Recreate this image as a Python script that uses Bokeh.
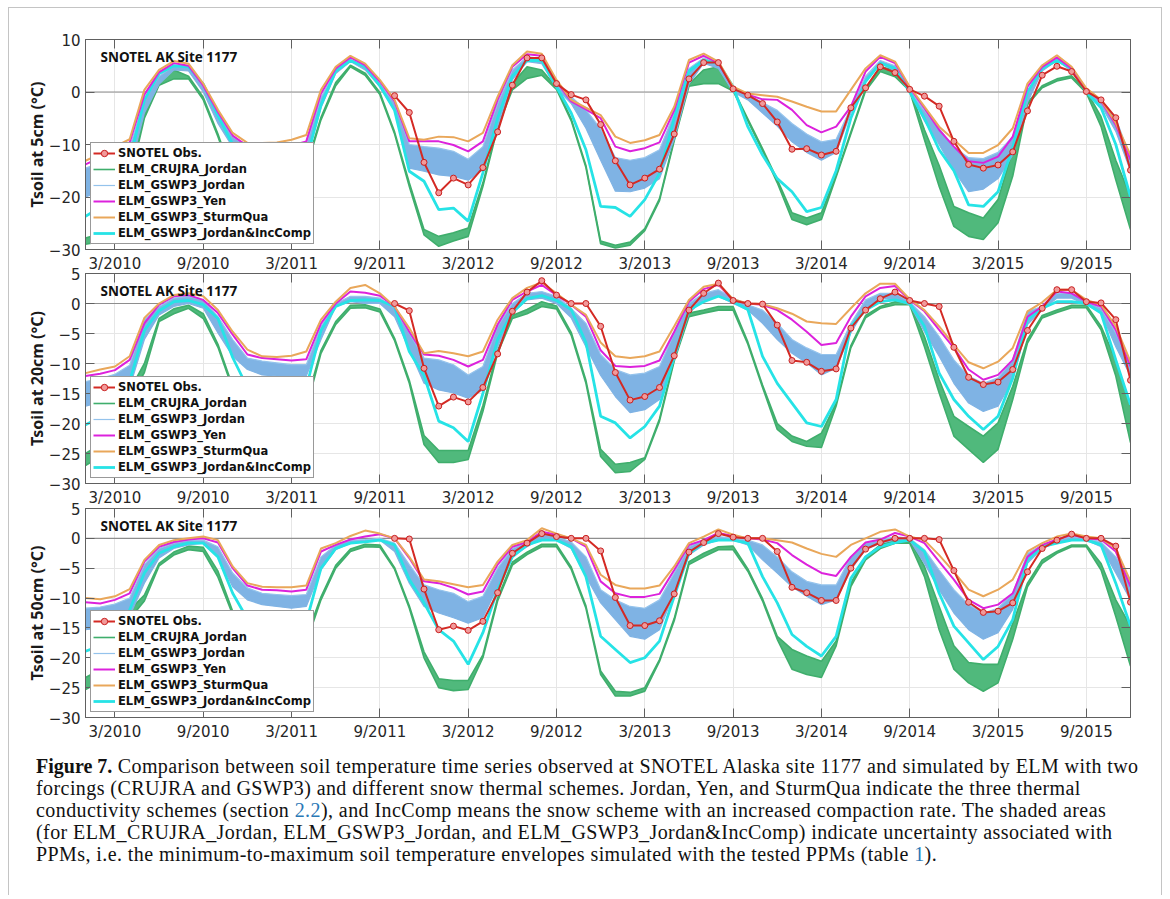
import math
from bokeh.plotting import figure
from bokeh.models import (ColumnDataSource, Legend, LegendItem, Range1d, FixedTicker,
                          LinearAxis, Label, Span, Div)
from bokeh.layouts import column
from bokeh.embed import file_html
from bokeh.resources import INLINE

nan = float("nan")

# ---------------- data ----------------
months = list(range(72))  # 0 = Jan 2010 ... 71 = Dec 2015
tick_months = [2, 8, 14, 20, 26, 32, 38, 44, 50, 56, 62, 68]
tick_labels = ["3/2010", "9/2010", "3/2011", "9/2011", "3/2012", "9/2012",
               "3/2013", "9/2013", "3/2014", "9/2014", "3/2015", "9/2015"]

depth_labels = ["Tsoil at 5cm (°C)", "Tsoil at 20cm (°C)", "Tsoil at 50cm (°C)"]
site_label = "SNOTEL AK Site 1177"
series_names = ["SNOTEL Obs.", "ELM_CRUJRA_Jordan", "ELM_GSWP3_Jordan", "ELM_GSWP3_Yen",
                "ELM_GSWP3_SturmQua", "ELM_GSWP3_Jordan&IncComp"]

# ---- 5 cm ----
obs_5 = [nan] * 21 + [
    -0.7, -3.9, -13.4, -19.2, -16.4, -17.7, -14.4, -7.6, 1.3, 6.5, 6.5, 1.6, -0.5, -1.5,
    -6.2, -13.1, -17.7, -16.4, -14.7, -8.0, 2.5, 5.6, 5.6, 0.6, -0.6, -2.2, -5.7, -10.9,
    -10.8, -12.0, -11.3, -3.0, 0.8, 4.8, 3.7, 0.5, -0.8, -2.7, -9.4, -13.8, -14.5, -13.9,
    -11.4, -3.6, 3.2, 4.9, 3.9, 0.1, -1.5, -4.9, -14.9]
sturm_5 = [-13.1, -11.8, -10.4, -9.0, 0.4, 4.2, 5.9, 5.4, 1.6, -3.4, -7.8, -9.7, -9.7, -9.6,
           -9.1, -8.2, 0.4, 4.8, 6.9, 5.4, 2.3, -1.5, -8.8, -9.1, -8.5, -8.6, -9.4, -7.8,
           -0.9, 5.1, 7.7, 7.3, 2.3, -1.5, -3.0, -4.4, -8.5, -9.7, -9.2, -8.2, -2.8, 6.1,
           7.3, 5.8, 1.0, -0.3, -0.6, -0.9, -1.8, -2.8, -3.7, -3.7, 0.4, 4.5, 7.0, 5.8,
           1.0, -2.8, -6.6, -9.1, -11.6, -11.6, -10.1, -6.9, 1.6, 5.1, 7.0, 4.8, 0.7, -1.5,
           -5.9, -12.0]
yen_5 = [-13.8, -12.5, -11.0, -9.6, -0.5, 3.8, 5.5, 5.0, 1.2, -3.8, -8.3, -10.3, -10.3, -10.0,
         -10.2, -9.4, -0.3, 4.5, 6.6, 5.1, 2.0, -1.8, -9.4, -9.4, -9.4, -10.1, -11.3, -9.4,
         -1.5, 4.8, 7.2, 6.9, 2.0, -1.8, -3.3, -5.0, -10.4, -11.3, -10.7, -9.6, -3.5, 5.6,
         6.9, 5.5, 0.8, -0.5, -1.4, -1.5, -3.4, -6.3, -7.7, -6.6, -2.8, 3.9, 6.7, 5.5, 0.8,
         -3.1, -7.2, -10.4, -13.2, -13.5, -12.3, -8.5, 1.0, 4.8, 6.6, 4.5, 0.5, -1.7, -6.3,
         -12.9]
gswp_hi_5 = [-14.5, -13.5, -12.0, -10.5, -1.5, 3.0, 5.0, 4.8, 1.0, -4.0, -8.5, -10.5, -11.0,
             -11.0, -11.0, -10.0, -1.0, 4.2, 6.3, 4.8, 1.5, -2.0, -10.0, -10.4, -10.7, -11.3,
             -12.8, -10.4, -2.2, 4.2, 6.7, 6.4, 1.3, -0.9, -3.4, -7.0, -12.5, -13.0, -12.5,
             -11.0, -4.0, 4.5, 6.5, 5.2, 0.5, -0.5, -2.0, -3.5, -6.0, -8.0, -9.5, -9.0, -3.0,
             3.0, 6.0, 5.0, 0.3, -3.5, -7.0, -10.5, -12.5, -12.7, -11.5, -8.5, 0.0, 5.0, 6.5,
             4.5, 0.5, -1.5, -5.0, -12.5]
gswp_lo_5 = [-20.0, -19.0, -17.5, -15.0, -4.0, 1.5, 4.2, 4.0, 0.0, -6.0, -10.5, -13.0, -14.0,
             -14.5, -14.5, -13.0, -3.0, 3.5, 5.8, 4.2, 1.0, -3.5, -14.5, -15.1, -15.8, -16.1,
             -16.8, -14.8, -6.6, 2.3, 5.8, 5.4, 0.7, -2.2, -6.9, -13.0, -18.9, -19.0, -18.3,
             -16.5, -9.0, 1.5, 5.5, 4.5, 0.0, -1.5, -4.0, -6.5, -9.5, -11.5, -13.0, -11.5,
             -4.0, 2.0, 5.5, 4.0, 0.0, -5.5, -10.0, -15.0, -19.0, -18.5, -16.5, -12.0, -2.0,
             4.0, 6.0, 4.0, 0.0, -2.5, -7.5, -15.0]
inccomp_5 = [-23.7, -22.0, -19.0, -13.0, -1.5, 3.5, 5.0, 4.8, 1.5, -4.5, -10.0, -14.0, -16.0,
             -17.0, -17.0, -13.0, -2.5, 4.0, 6.0, 4.8, 1.2, -3.5, -15.1, -17.0, -22.4, -22.1,
             -24.6, -15.4, -5.0, 3.0, 6.0, 6.0, 1.0, -4.0, -11.0, -21.8, -22.0, -23.7, -20.5,
             -15.5, -5.0, 4.0, 6.0, 5.5, 1.0, -6.6, -12.0, -16.5, -19.0, -22.8, -22.0, -15.0,
             -5.0, 2.0, 5.5, 4.5, 0.0, -5.0, -11.0, -15.0, -21.5, -21.8, -19.0, -10.5, 0.0,
             4.5, 6.0, 4.5, 0.0, -3.0, -10.0, -20.0]
cru_lo_5 = [-29.0, -28.5, -25.0, -17.0, -5.0, 1.3, 2.5, 2.5, -1.5, -8.5, -16.5, -23.0, -27.0,
            -28.0, -27.0, -14.5, -5.3, 1.2, 4.8, 3.2, -0.5, -8.0, -18.0, -27.2, -29.4, -28.4,
            -27.5, -18.0, -6.8, 0.4, 2.6, 3.2, 0.5, -5.5, -14.4, -28.9, -29.7, -29.2, -26.4,
            -20.7, -9.3, 1.1, 1.6, 1.6, 0.2, -5.5, -11.2, -17.3, -24.3, -25.3, -24.3, -16.2,
            -8.0, 0.2, 3.9, 2.9, 0.2, -9.1, -18.0, -25.6, -27.5, -28.1, -24.9, -16.0, -2.4,
            0.8, 2.1, 2.7, -0.2, -6.6, -16.7, -26.2]
cru_hi_5 = [-27.8, -27.0, -23.0, -15.0, -4.0, 2.0, 4.2, 3.0, -1.0, -8.0, -16.0, -22.0, -25.5,
            -26.5, -25.5, -14.0, -4.8, 1.8, 5.1, 3.6, -0.1, -7.6, -17.3, -26.2, -27.5, -26.8,
            -25.9, -17.3, -6.4, 1.6, 4.8, 4.2, 0.9, -5.1, -14.0, -28.4, -29.2, -28.6, -26.0,
            -20.3, -8.9, 1.5, 4.2, 4.8, 0.6, -5.1, -10.8, -16.7, -23.0, -24.0, -23.0, -15.8,
            -7.6, 0.6, 4.8, 4.2, 0.6, -7.2, -14.0, -21.8, -23.0, -24.0, -20.5, -11.0, -2.0,
            1.2, 2.5, 3.1, 0.2, -4.7, -13.0, -19.9]

# ---- 20 cm ----
obs_20 = [nan] * 21 + [
    0.0, -1.2, -10.8, -17.1, -15.6, -16.4, -14.0, -8.4, -1.3, 1.9, 3.8, 1.4, 0.0, 0.0,
    -3.8, -11.5, -16.1, -15.5, -14.0, -8.7, -1.1, 1.7, 3.4, 0.5, 0.0, -0.1, -3.6, -9.5,
    -9.8, -11.3, -10.9, -4.1, -1.1, 0.8, 1.9, 0.5, 0.0, -0.5, -7.3, -12.3, -13.5, -13.1,
    -11.0, -4.5, -0.8, 2.3, 2.3, 0.3, 0.1, -2.7, -12.8]
sturm_20 = [-11.6, -11.0, -10.5, -8.8, -2.4, 0.0, 1.4, 1.7, 1.2, -1.1, -4.7, -7.7, -8.8, -8.9,
            -8.7, -8.0, -2.7, 0.3, 2.6, 3.1, 1.7, -0.5, -4.1, -8.3, -7.9, -8.3, -8.8, -8.0,
            -2.7, 0.9, 2.6, 3.5, 1.7, -0.2, -1.9, -6.5, -8.8, -9.1, -8.8, -8.0, -3.8, 0.6,
            2.8, 3.3, 0.7, 0.0, -0.1, -0.8, -1.7, -3.0, -3.3, -3.4, -0.8, 1.7, 3.3, 3.3, 0.7,
            -1.1, -3.8, -6.9, -9.8, -10.8, -9.7, -7.4, -1.3, 0.2, 2.3, 2.3, 0.6, -0.2, -3.8,
            -9.7]
yen_20 = [-12.1, -11.7, -11.1, -9.4, -3.3, -0.2, 1.2, 1.4, 0.6, -1.6, -5.2, -8.5, -9.1, -9.3,
          -9.5, -9.3, -3.3, 0.0, 2.0, 1.8, 1.3, -0.5, -4.7, -8.5, -8.7, -9.4, -10.5, -9.4,
          -3.5, 0.6, 2.0, 3.1, 1.4, -0.2, -2.2, -7.8, -10.4, -10.6, -10.4, -9.5, -4.7, 0.3,
          2.4, 3.1, 0.6, 0.0, -0.2, -1.1, -2.7, -4.7, -6.9, -6.6, -2.2, 1.2, 2.6, 2.9, 0.6,
          -1.3, -4.4, -7.4, -11.0, -12.7, -11.9, -9.4, -2.2, -0.5, 2.0, 1.7, 0.3, -0.5, -4.4,
          -10.5]
gswp_hi_20 = [-13.0, -12.5, -11.8, -10.3, -2.7, -0.5, 0.9, 1.2, 0.6, -2.2, -6.0, -9.1, -9.6,
              -9.9, -10.2, -10.2, -3.8, 0.0, 1.2, 1.2, 0.9, -0.8, -4.9, -9.1, -9.4, -10.2,
              -11.9, -10.5, -3.8, 0.0, 1.7, 2.0, 1.2, -0.8, -3.3, -8.5, -11.0, -11.9, -11.6,
              -10.5, -4.9, 0.0, 1.7, 2.3, 0.9, -0.2, -1.1, -3.3, -6.0, -7.4, -8.5, -8.5, -3.3,
              0.6, 1.7, 1.7, 0.3, -2.2, -5.5, -9.4, -12.1, -13.3, -12.4, -9.4, -1.3, -0.5, 1.7,
              1.7, 0.3, -0.8, -4.9, -9.9]
gswp_lo_20 = [-17.1, -16.5, -15.5, -14.0, -6.0, -1.9, -0.5, 0.0, -0.8, -4.9, -8.8, -11.0,
              -11.9, -12.1, -12.4, -12.1, -6.0, -0.5, 0.3, 0.0, 0.0, -2.2, -7.7, -13.3, -14.4,
              -14.9, -15.8, -14.4, -7.2, -1.6, 0.6, 0.9, 0.0, -2.4, -7.2, -12.0, -15.5, -18.2,
              -17.7, -16.0, -9.4, -1.6, 0.6, 1.2, 0.0, -1.1, -3.3, -6.0, -8.3, -9.9, -11.9,
              -10.8, -4.9, -0.8, 0.9, 0.6, -0.2, -4.7, -8.8, -13.3, -16.6, -18.0, -17.1, -12.7,
              -3.5, -1.1, 0.9, 0.9, -0.2, -1.6, -7.2, -12.1]
inccomp_20 = [-20.2, -19.0, -17.0, -13.0, -4.5, -1.2, 0.3, 0.5, -0.2, -2.5, -9.0, -14.0, -16.5,
              -17.0, -17.5, -14.0, -4.5, -0.5, 0.5, 0.6, 0.5, -0.5, -8.0, -12.0, -19.6, -20.7,
              -23.0, -15.0, -6.0, -1.5, 0.8, 1.3, 0.5, -1.0, -6.5, -18.8, -19.9, -22.4, -20.5,
              -17.1, -8.8, -1.1, 0.3, 1.2, 0.3, -1.0, -8.8, -13.3, -16.6, -19.9, -20.5, -16.0,
              -3.8, -1.1, 0.3, 0.6, 0.0, -3.8, -11.6, -16.0, -18.8, -21.0, -18.8, -12.4, -2.7,
              -0.8, 0.3, 0.3, 0.0, -1.6, -9.4, -16.9]
cru_lo_20 = [-27.0, -25.5, -22.0, -16.0, -11.5, -3.0, -1.7, -0.8, -2.5, -7.3, -14.3, -20.5,
             -23.5, -24.5, -24.5, -17.5, -8.3, -3.5, -0.8, -0.7, -1.4, -6.2, -13.3, -23.5,
             -26.5, -26.5, -26.0, -18.0, -8.3, -2.5, -1.7, -0.5, -0.9, -5.3, -13.3, -25.5,
             -28.2, -28.0, -26.0, -19.6, -9.6, -2.2, -1.6, -1.1, -1.1, -6.8, -14.0, -21.0,
             -23.0, -23.8, -24.0, -17.1, -7.4, -2.4, -0.8, -0.2, -0.2, -7.2, -14.9, -22.1,
             -24.3, -26.5, -24.3, -16.0, -6.6, -2.4, -1.5, -0.7, -0.7, -4.4, -12.1, -23.2]
cru_hi_20 = [-25.0, -23.5, -20.0, -14.5, -10.0, -2.5, -0.9, -0.3, -1.7, -6.8, -13.8, -19.5,
             -22.5, -23.5, -23.5, -16.5, -7.8, -3.0, -0.3, -0.2, -0.9, -5.8, -12.8, -22.0,
             -24.5, -24.5, -24.5, -17.0, -7.8, -2.0, -1.0, 0.3, -0.4, -4.8, -12.8, -24.3,
             -26.8, -26.5, -25.7, -19.2, -9.2, -1.6, -1.1, -0.5, -0.5, -6.4, -13.6, -20.0,
             -22.1, -23.0, -21.6, -16.6, -7.0, -2.0, -0.5, 0.3, 0.2, -5.5, -12.7, -18.8, -20.5,
             -22.1, -19.9, -13.8, -6.0, -2.0, -1.1, -0.3, -0.3, -3.8, -9.4, -17.1]

# ---- 50 cm ----
obs_50 = [nan] * 21 + [
    0.0, -0.1, -8.5, -15.3, -14.7, -15.4, -13.9, -9.1, -2.5, -0.8, 0.8, 0.3, 0.0, 0.0,
    -2.1, -9.9, -14.6, -14.6, -13.8, -9.3, -2.3, -0.7, 0.8, 0.2, 0.0, 0.0, -2.2, -8.2,
    -9.1, -10.4, -10.4, -5.0, -1.8, -0.7, 0.0, 0.0, 0.0, -0.2, -5.4, -10.7, -12.4, -12.2,
    -10.8, -5.6, -1.7, -0.3, 0.7, 0.0, 0.0, -1.3, -10.7]
sturm_50 = [-10.0, -10.2, -9.7, -8.5, -3.6, -1.1, -0.3, 0.0, 0.3, -0.3, -4.7, -7.5, -8.1, -8.2,
            -8.2, -7.9, -1.7, -0.8, 0.4, 1.3, 0.8, 0.0, -3.1, -6.9, -7.2, -7.7, -8.2, -7.8,
            -3.9, -1.1, -0.3, 1.7, 0.8, 0.0, -1.1, -6.1, -7.8, -8.4, -8.4, -7.9, -4.7, -0.8,
            0.3, 1.5, 0.6, 0.0, 0.0, -0.3, -0.7, -1.7, -2.6, -3.1, -1.1, 0.0, 1.1, 1.5, 0.3,
            -0.3, -2.8, -5.6, -8.6, -9.7, -8.6, -6.9, -2.2, -0.8, 0.3, 0.8, 0.3, 0.0, -1.7,
            -7.2]
yen_50 = [-10.7, -10.9, -10.3, -9.2, -3.9, -1.4, -0.6, -0.2, 0.0, -0.7, -5.0, -7.9, -8.6, -8.7,
          -8.9, -8.6, -2.2, -1.1, -0.2, 0.3, 0.7, 0.0, -3.3, -7.2, -7.5, -8.3, -9.4, -8.9,
          -4.4, -1.4, -0.6, 1.1, 0.6, 0.0, -1.4, -7.2, -9.2, -9.8, -9.8, -9.3, -5.3, -1.1,
          -0.3, 0.9, 0.4, 0.0, -0.2, -0.8, -2.8, -4.4, -5.8, -6.3, -3.1, -0.7, -0.2, 0.9, 0.3,
          -0.8, -3.9, -6.9, -10.3, -11.7, -11.1, -9.2, -3.1, -1.1, -0.2, 0.6, 0.0, -0.2, -2.2,
          -8.1]
gswp_hi_50 = [-11.7, -11.5, -11.0, -10.0, -4.4, -1.7, -0.8, -0.3, -0.3, -1.4, -5.8, -8.3,
              -9.2, -9.4, -9.6, -9.4, -3.1, -1.1, -0.3, -0.2, 0.0, -0.8, -4.4, -7.8, -8.6,
              -9.2, -10.6, -9.7, -5.0, -1.7, -0.7, 0.6, 0.3, -0.6, -3.1, -8.6, -10.3, -11.4,
              -11.7, -10.3, -5.8, -1.4, -0.3, 0.3, 0.0, -0.3, -1.1, -3.1, -5.6, -7.2, -7.8,
              -7.8, -3.1, -0.8, -0.3, 0.3, 0.0, -1.9, -5.3, -8.6, -11.1, -12.5, -11.7, -9.2,
              -2.5, -1.1, -0.3, 0.3, 0.0, -0.6, -3.1, -6.9]
gswp_lo_50 = [-15.3, -15.0, -14.5, -13.0, -7.5, -3.3, -1.7, -1.1, -0.8, -3.1, -8.1, -10.3,
              -11.1, -11.4, -11.7, -11.4, -5.3, -1.9, -0.8, -0.6, -0.3, -2.2, -7.5, -11.4,
              -12.5, -13.3, -14.2, -13.3, -8.1, -3.1, -1.4, 0.0, -0.3, -1.7, -6.4, -10.8,
              -13.6, -16.4, -16.9, -15.3, -9.2, -2.8, -1.1, -0.3, -0.3, -1.1, -3.6, -5.8,
              -8.1, -9.7, -11.1, -10.3, -5.3, -1.9, -0.8, -0.3, -0.3, -4.2, -8.6, -12.5,
              -15.3, -16.9, -15.8, -11.9, -4.2, -1.7, -0.7, -0.3, -0.3, -1.4, -5.8, -10.3]
inccomp_50 = [-18.9, -18.0, -16.0, -12.0, -5.8, -2.5, -1.4, -0.8, -0.8, -3.1, -9.2, -13.5,
              -15.5, -16.5, -17.0, -14.0, -5.0, -1.7, -0.8, -0.6, -0.3, -1.1, -6.9, -10.8,
              -15.3, -17.2, -21.1, -15.8, -8.6, -3.1, -1.1, -0.3, -0.3, -1.4, -6.4, -16.4,
              -18.6, -20.8, -20.0, -17.2, -9.7, -2.5, -0.8, -0.3, -0.3, -0.8, -6.4, -10.8,
              -16.1, -18.1, -19.7, -16.4, -6.7, -3.1, -1.4, -0.7, -0.3, -2.2, -9.2, -14.7,
              -17.5, -20.3, -18.1, -13.6, -3.6, -1.4, -0.8, -0.3, -0.3, -1.1, -7.5, -14.7]
cru_lo_50 = [-25.3, -24.0, -20.0, -13.5, -10.5, -4.6, -2.8, -1.9, -2.2, -6.5, -12.8, -18.0,
             -21.5, -22.5, -23.0, -17.5, -10.3, -5.0, -2.2, -1.4, -1.5, -5.2, -11.7, -20.0,
             -25.0, -25.5, -25.3, -20.0, -10.5, -4.5, -2.7, -1.4, -1.4, -5.2, -11.7, -22.8,
             -26.4, -26.4, -25.6, -20.6, -13.8, -4.4, -3.1, -1.9, -1.9, -5.5, -10.5, -16.9,
             -21.9, -22.8, -23.3, -18.0, -8.1, -3.6, -1.7, -0.8, -0.8, -6.4, -15.3, -21.9,
             -24.2, -25.6, -24.2, -16.9, -8.1, -4.2, -2.5, -1.4, -1.4, -5.3, -13.1, -21.4]
cru_hi_50 = [-23.3, -22.0, -18.0, -12.0, -9.5, -4.2, -2.3, -1.3, -1.5, -5.5, -12.2, -17.0,
             -20.5, -21.5, -22.0, -16.5, -9.8, -4.5, -1.8, -1.0, -1.1, -4.9, -11.3, -19.0,
             -23.5, -23.8, -23.8, -19.5, -10.0, -4.0, -2.3, -1.0, -1.0, -4.8, -11.3, -22.2,
             -25.6, -25.8, -25.0, -20.3, -13.4, -3.9, -2.5, -1.4, -1.3, -5.1, -10.1, -16.4,
             -18.6, -19.7, -20.6, -17.2, -7.5, -3.1, -1.1, -0.3, -0.3, -4.7, -11.4, -18.0,
             -20.8, -21.1, -21.1, -14.2, -7.5, -3.6, -2.2, -1.1, -1.1, -4.2, -10.3, -14.7]

# ---------------- style ----------------
C_RED = "#d42a24"
C_GREEN_FILL = "#50b97c"
C_GREEN_LINE = "#3fae6c"
C_BLUE_FILL = "#7fb3e4"
C_BLUE_LINE = "#94c3ec"
C_MAGENTA = "#dc22dc"
C_ORANGE = "#e9a75a"
C_CYAN = "#26e3e6"
FRAME = "#606060"
TICK_FONT = "DejaVu Sans"
BOLD_FONT = "Noto Sans"

X0, X1 = 0, 71


def style_mirror(ax):
    ax.axis_line_color = FRAME
    ax.major_tick_line_color = FRAME
    ax.major_tick_in = 9
    ax.major_tick_out = 0
    ax.minor_tick_line_color = None
    ax.major_label_text_color = None
    ax.major_label_text_font_size = "1px"
    ax.major_label_standoff = 0


def make_panel(ylabel, ystart, yend, ystep, obs, sturm, yen, g_hi, g_lo, inc, c_lo, c_hi,
               height, top, bottom, margin_top):
    p = figure(width=1152, height=height, x_range=Range1d(X0, X1),
               y_range=Range1d(ystart, yend), output_backend="svg",
               toolbar_location=None, min_border_left=76, min_border_right=31,
               min_border_top=top, min_border_bottom=bottom,
               border_fill_color=None, background_fill_color="white",
               outline_line_color=FRAME, outline_line_width=1,
               margin=(margin_top, 0, 0, 0))
    yticks = list(range(ystart, yend + 1, ystep))
    src = ColumnDataSource(dict(m=months, obs=obs, sturm=sturm, yen=yen, ghi=g_hi, glo=g_lo,
                                inc=inc, clo=c_lo, chi=c_hi))

    # grid
    p.xgrid.ticker = FixedTicker(ticks=tick_months)
    p.ygrid.ticker = FixedTicker(ticks=yticks)
    p.xgrid.grid_line_color = "#e6e6e6"
    p.ygrid.grid_line_color = "#e6e6e6"
    p.add_layout(Span(location=0, dimension="width", line_color="#8e8e8e", line_width=1.2,
                      level="underlay"))

    # CRUJRA envelope
    p.varea(x="m", y1="clo", y2="chi", source=src, fill_color=C_GREEN_FILL)
    r_green = p.line("m", "chi", source=src, line_color=C_GREEN_LINE, line_width=1.6)
    p.line("m", "clo", source=src, line_color=C_GREEN_LINE, line_width=1.6)
    # GSWP3 Jordan envelope
    p.varea(x="m", y1="glo", y2="ghi", source=src, fill_color=C_BLUE_FILL)
    r_blue = p.line("m", "ghi", source=src, line_color=C_BLUE_LINE, line_width=1.2)
    p.line("m", "glo", source=src, line_color=C_BLUE_FILL, line_width=1.2)
    # IncComp
    r_cyan = p.line("m", "inc", source=src, line_color=C_CYAN, line_width=2.8)
    # Yen / SturmQua
    r_yen = p.line("m", "yen", source=src, line_color=C_MAGENTA, line_width=2)
    r_sturm = p.line("m", "sturm", source=src, line_color=C_ORANGE, line_width=2)
    # observations
    r_obs_l = p.line("m", "obs", source=src, line_color=C_RED, line_width=2)
    r_obs_m = p.scatter("m", "obs", source=src, size=6, marker="circle",
                        line_color="#c81e1e", fill_color="#f19a9a", line_width=1)

    # axes
    for ax in (p.xaxis[0], p.yaxis[0]):
        ax.axis_line_color = FRAME
        ax.major_tick_line_color = FRAME
        ax.major_tick_in = 9
        ax.major_tick_out = 0
        ax.minor_tick_line_color = None
        ax.major_label_text_font = TICK_FONT
        ax.major_label_text_font_size = "15px"
        ax.major_label_text_color = "#262626"
    p.xaxis[0].ticker = FixedTicker(ticks=tick_months)
    p.xaxis[0].major_label_overrides = {m: l for m, l in zip(tick_months, tick_labels)}
    p.xaxis[0].major_label_standoff = 5
    p.yaxis[0].ticker = FixedTicker(ticks=yticks)
    p.yaxis[0].major_label_standoff = 5
    p.yaxis[0].axis_label = ylabel
    p.yaxis[0].axis_label_text_font = BOLD_FONT
    p.yaxis[0].axis_label_text_font_style = "bold"
    p.yaxis[0].axis_label_text_font_size = "16px"
    p.yaxis[0].axis_label_text_color = "#1a1a1a"
    p.yaxis[0].axis_label_standoff = -2

    # mirrored axes (box on) - tick marks only
    top_ax = LinearAxis(ticker=FixedTicker(ticks=tick_months))
    right_ax = LinearAxis(ticker=FixedTicker(ticks=yticks))
    style_mirror(top_ax)
    style_mirror(right_ax)
    p.add_layout(top_ax, "above")
    p.add_layout(right_ax, "right")

    p.add_layout(Label(x=X0, y=yend, x_offset=15, y_offset=-17, text=site_label,
                       text_font=BOLD_FONT, text_font_style="bold", text_font_size="13.5px",
                       text_baseline="middle", text_color="#111111"))

    legend = Legend(items=[
        LegendItem(label=series_names[0], renderers=[r_obs_l, r_obs_m]),
        LegendItem(label=series_names[1], renderers=[r_green]),
        LegendItem(label=series_names[2], renderers=[r_blue]),
        LegendItem(label=series_names[3], renderers=[r_yen]),
        LegendItem(label=series_names[4], renderers=[r_sturm]),
        LegendItem(label=series_names[5], renderers=[r_cyan]),
    ], location="bottom_left", margin=5, padding=2, spacing=0,
        glyph_width=22, glyph_height=16, label_height=16, label_standoff=3,
        label_text_font="DejaVu Sans", label_text_font_style="bold",
        label_text_font_size="11.5px", label_text_color="#111111",
        border_line_color="#333333", border_line_width=1,
        background_fill_color="white", background_fill_alpha=1.0)
    p.add_layout(legend)
    return p


p1 = make_panel(depth_labels[0], -30, 10, 10, obs_5, sturm_5, yen_5, gswp_hi_5, gswp_lo_5,
                inccomp_5, cru_lo_5, cru_hi_5, height=267, top=31, bottom=25, margin_top=0)
p2 = make_panel(depth_labels[1], -30, 5, 5, obs_20, sturm_20, yen_20, gswp_hi_20, gswp_lo_20,
                inccomp_20, cru_lo_20, cru_hi_20, height=243, top=7, bottom=25, margin_top=-9)
p3 = make_panel(depth_labels[2], -30, 5, 5, obs_50, sturm_50, yen_50, gswp_hi_50, gswp_lo_50,
                inccomp_50, cru_lo_50, cru_hi_50, height=243, top=8, bottom=25, margin_top=-9)

link = "color:#2a78b6"
caption_html = (
    "<div style=\"font-family:'Liberation Serif',serif;font-size:20px;line-height:22px;"
    "letter-spacing:0.42px;color:#111;white-space:nowrap;padding-left:27px\">"
    "<b style='letter-spacing:0'>Figure 7.</b> Comparison between soil temperature time series "
    "observed at SNOTEL Alaska site 1177 and simulated by ELM with two<br>"
    "forcings (CRUJRA and GSWP3) and different snow thermal schemes. Jordan, Yen, and SturmQua "
    "indicate the three thermal<br>"
    "conductivity schemes (section <span style='" + link + "'>2.2</span>), and IncComp means the "
    "snow scheme with an increased compaction rate. The shaded areas<br>"
    "(for ELM_CRUJRA_Jordan, ELM_GSWP3_Jordan, and ELM_GSWP3_Jordan&amp;IncComp) indicate "
    "uncertainty associated with<br>"
    "PPMs, i.e. the minimum-to-maximum soil temperature envelopes simulated with the tested PPMs "
    "(table <span style='" + link + "'>1</span>).</div>")
caption = Div(text=caption_html, width=1152, height=140, margin=(12, 0, 0, 0))

layout = column(p1, p2, p3, caption, margin=(7, 0, 0, 8), spacing=0,
                styles={"border-top": "1px solid #c4c4c4", "border-left": "1px solid #c4c4c4",
                        "border-right": "1px solid #c4c4c4"})

with open("out.html", "w") as f:
    f.write(file_html(layout, INLINE, title="Figure 7"))
